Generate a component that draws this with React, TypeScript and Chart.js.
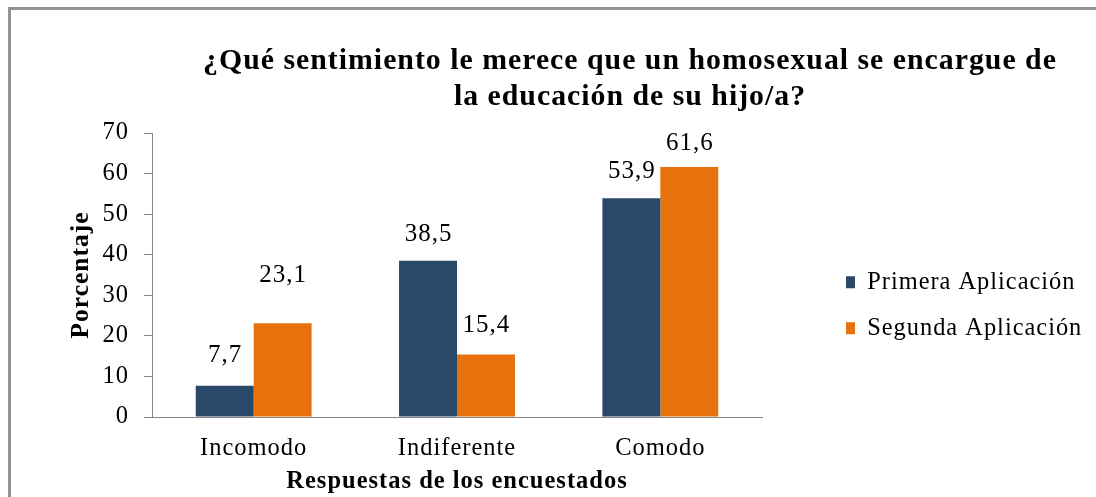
import React, { useEffect, useRef } from 'react';
import { Chart, registerables } from 'chart.js';

Chart.register(...registerables);

const categories = ['Incomodo', 'Indiferente', 'Comodo'];
const seriesNames = ['Primera Aplicación', 'Segunda Aplicación'];
const primera = [7.7, 38.5, 53.9];
const segunda = [23.1, 15.4, 61.6];
const yTicks = [0, 10, 20, 30, 40, 50, 60, 70];
const titleLines = [
  '¿Qué sentimiento le merece que un homosexual se encargue de',
  'la educación de su hijo/a?',
];
const xTitle = 'Respuestas de los encuestados';
const yTitle = 'Porcentaje';

const FONT = "'Liberation Serif', 'Times New Roman', Times, serif";
const SPACING = '1px';
const NAVY = '#2A4869';
const ORANGE = '#E6710D';
const AXIS = '#868686';
// vertical gap (px) between each bar top and the centre of its value label, per series
const LABEL_LIFT = [
  [30, 26, 27],
  [48, 29, 24],
];

const layoutPlugin = {
  id: 'layoutTweaks',
  beforeUpdate(chart: any) {
    chart.ctx.letterSpacing = SPACING;
  },
  beforeLayout(chart: any) {
    chart.ctx.letterSpacing = SPACING;
    const lg = chart.legend;
    if (lg && !lg.__patched) {
      const orig = lg.fit.bind(lg);
      lg.fit = function () {
        orig();
        lg.width = 334;
      };
      lg.__patched = true;
    }
  },
  afterLayout(chart: any) {
    const lg = chart.legend;
    if (lg) {
      lg.left = 824.4;
      lg.right = 1096;
      lg.top = 162;
      lg.bottom = 448.4;
    }
    const tb = chart.titleBlock;
    if (tb) {
      tb.left = 170;
      tb.right = 1090;
    }
  },
  beforeDraw(chart: any) {
    chart.ctx.letterSpacing = SPACING;
  },
};

const valueLabels = {
  id: 'valueLabels',
  afterDatasetsDraw(chart: any) {
    const ctx = chart.ctx;
    ctx.save();
    ctx.letterSpacing = SPACING;
    ctx.font = `25px ${FONT}`;
    ctx.fillStyle = '#000';
    ctx.textAlign = 'center';
    ctx.textBaseline = 'middle';
    chart.data.datasets.forEach((ds: any, di: number) => {
      const meta = chart.getDatasetMeta(di);
      meta.data.forEach((el: any, i: number) => {
        const v = ds.data[i];
        ctx.fillText(String(v).replace('.', ','), el.x + 0.5, el.y - LABEL_LIFT[di][i]);
      });
    });
    ctx.restore();
  },
};

export default function App() {
  const ref = useRef<HTMLCanvasElement | null>(null);

  useEffect(() => {
    if (!ref.current) return;
    const chart = new Chart(ref.current, {
      type: 'bar',
      data: {
        labels: categories,
        datasets: [
          {
            label: seriesNames[0],
            data: primera,
            backgroundColor: NAVY,
            borderWidth: 0,
            categoryPercentage: 0.57,
            barPercentage: 1,
          },
          {
            label: seriesNames[1],
            data: segunda,
            backgroundColor: ORANGE,
            borderWidth: 0,
            categoryPercentage: 0.57,
            barPercentage: 1,
          },
        ],
      },
      options: {
        responsive: true,
        maintainAspectRatio: false,
        animation: false,
        layout: { padding: { left: 68.25, right: 0, top: 0, bottom: 0 } },
        plugins: {
          title: {
            display: true,
            text: titleLines,
            color: '#000',
            font: { family: FONT, size: 29.8, weight: 'bold', lineHeight: 36 / 29.8 },
            padding: { top: 43, bottom: 18 },
          },
          legend: {
            display: true,
            position: 'right',
            align: 'center',
            labels: {
              boxWidth: 9,
              boxHeight: 12,
              padding: 21.6,
              color: '#000',
              textAlign: 'left',
              font: { family: FONT, size: 24.4, lineHeight: 1 },
            },
          },
          tooltip: { enabled: false },
        },
        scales: {
          x: {
            grid: { display: false, drawTicks: false },
            border: { display: true, color: AXIS, width: 1 },
            ticks: {
              color: '#000',
              font: { family: FONT, size: 24.5, lineHeight: 1 },
              padding: 19,
              maxRotation: 0,
            },
            title: {
              display: true,
              text: xTitle,
              color: '#000',
              font: { family: FONT, size: 24.5, weight: 'bold', lineHeight: 1 },
              padding: { top: 0, bottom: 2.75 },
            },
            afterFit: (s: any) => {
              s.height = 80;
            },
          },
          y: {
            min: yTicks[0],
            max: yTicks[yTicks.length - 1],
            ticks: {
              stepSize: yTicks[1] - yTicks[0],
              color: '#000',
              font: { family: FONT, size: 24.5, lineHeight: 1 },
              padding: 15,
            },
            grid: {
              display: true,
              drawOnChartArea: false,
              drawTicks: true,
              tickLength: 8,
              color: AXIS,
            },
            border: { display: true, color: AXIS, width: 1 },
            title: {
              display: true,
              text: yTitle,
              color: '#000',
              font: { family: FONT, size: 25.5, weight: 'bold', lineHeight: 1 },
              padding: { top: 0, bottom: 0 },
            },
            afterFit: (s: any) => {
              s.width = 83.75;
            },
          },
        },
      } as any,
      plugins: [layoutPlugin, valueLabels] as any,
    });
    return () => chart.destroy();
  }, []);

  return (
    <div style={{ position: 'fixed', left: 0, top: 0, width: 1096, height: 497, background: '#fff', overflow: 'hidden' }}>
      <div
        style={{
          position: 'absolute',
          left: 8,
          top: 7,
          width: 1200,
          height: 600,
          borderLeft: '3px solid #939393',
          borderTop: '3px solid #939393',
        }}
      />
      <div style={{ position: 'absolute', left: 0, top: 0, width: 1096, height: 497 }}>
        <canvas ref={ref} style={{ display: 'block' }} />
      </div>
    </div>
  );
}
